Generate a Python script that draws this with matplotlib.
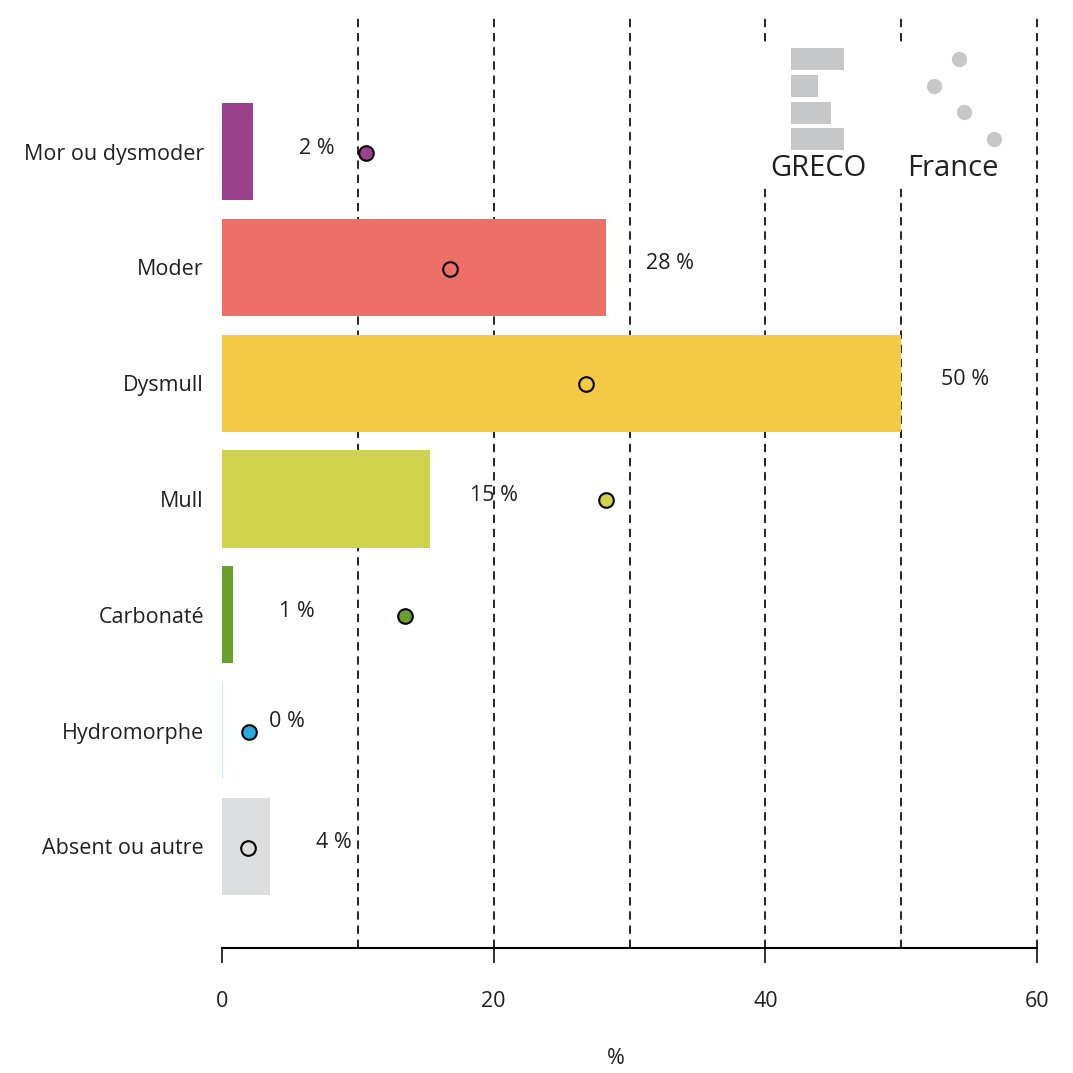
import matplotlib.pyplot as plt

plt.rcParams['font.family'] = ['Open Sans', 'DejaVu Sans']

# Data
categories = ["Mor ou dysmoder", "Moder", "Dysmull", "Mull", "Carbonaté",
              "Hydromorphe", "Absent ou autre"]
greco = [2.3, 28.3, 50.0, 15.3, 0.8, 0.1, 3.5]
france = [10.6, 16.8, 26.8, 28.3, 13.5, 2.0, 1.9]
labels = ["2 %", "28 %", "50 %", "15 %", "1 %", "0 %", "4 %"]
bar_colors = ["#9b418c", "#ec7068", "#f4c943", "#cfd34b", "#68a02a",
              "#c9e9f6", "#dcddde"]
point_colors = ["#9b418c", "#ec7068", "#f4c943", "#cfd34b", "#68a02a",
                "#29aae1", "#dcddde"]
label_offset = [0, 0, 0, 0, 0, 0.05, 0]

# legend glyphs
leg_bar_widths = [53, 27, 40, 53]
leg_bar_y = [17, 44, 71, 97]
leg_pt_x = [199, 174, 204, 234]
leg_pt_y = [17, 44, 70, 97]

fig = plt.figure(figsize=(10.73, 10.73), dpi=100)
ax = fig.add_axes([0.2069, 0.1165, 0.7596, 0.8695])

y = list(range(len(categories)))
ax.barh(y, greco, height=0.84, color=bar_colors, zorder=2)
for i in y:
    ax.plot(france[i], i + 0.01, "o", ms=10.5, mfc=point_colors[i],
            mec="black", mew=1.5, zorder=4)
    ax.text(greco[i] + 4.7, i - 0.03 - label_offset[i], labels[i],
            ha="center", va="center", fontsize=15.5, color="#231f20",
            zorder=5)

for gx in [10, 20, 30, 40, 50, 60]:
    ax.axvline(gx, color="black", lw=1.2, ls=(0, (5, 3.5)), zorder=1,
               clip_on=False)

ax.set_xlim(0, 60)
ax.set_ylim(6.877, -1.18)
ax.set_xticks([0, 20, 40, 60])
ax.set_yticks(y)
ax.set_yticklabels(categories)
for s in ["top", "right", "left"]:
    ax.spines[s].set_visible(False)
ax.spines["bottom"].set_linewidth(1.5)
ax.tick_params(axis="x", length=11, width=1.3, pad=20, labelsize=15.5,
               colors="#231f20")
ax.tick_params(axis="y", length=0, pad=13, labelsize=15.5, colors="#231f20")
ax.set_xlabel("%", fontsize=15.5, color="#231f20")
ax.xaxis.label.set_va("center")
ax.xaxis.set_label_coords(0.483, -0.118)

# Legend
lax = fig.add_axes([0.708, 0.8248, 0.2423, 0.136])
lax.set_facecolor("white")
lax.set_zorder(3)
lax.set_xlim(0, 260)
lax.set_ylim(146, 0)
lax.barh(leg_bar_y, leg_bar_widths, left=31, height=22, color="#c6c7c8")
lax.plot(leg_pt_x, leg_pt_y, "o", ms=11, color="#c6c7c8", mew=0)
lax.text(59, 127, "GRECO", ha="center", va="center", fontsize=21,
         color="#231f20")
lax.text(193, 127, "France", ha="center", va="center", fontsize=21,
         color="#231f20")
lax.set_xticks([])
lax.set_yticks([])
for s in lax.spines.values():
    s.set_visible(False)

fig.savefig("out.png", dpi=100)
